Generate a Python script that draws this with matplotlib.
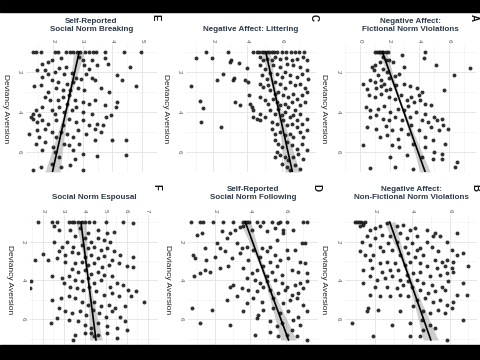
import numpy as np
import matplotlib.pyplot as plt
from matplotlib.patches import Rectangle

plt.rcParams['font.family'] = ['Liberation Sans', 'DejaVu Sans']

# ---- data (x = measure, y = Deviancy Aversion) ----
# E: Self-Reported Social Norm Breaking
e_pts = [(1.32,1),(1.44,1),(1.58,1),(2.07,1),(2.16,1),(2.42,1),(2.56,1),(2.66,1),(2.82,1),(2.92,1),
         (3.08,1),(3.21,1),(3.34,1),(3.43,1),(3.74,1),(4.39,1),(4.95,1),
         (1.84,1.5),(1.95,1.38),(1.63,1.58),(2.28,1.28),(2.89,1.25),(3.0,1.42),(3.32,1.38),(3.74,1.28),
         (3.84,1.62),(3.05,1.67),(3.21,1.83),(3.47,1.67),(4.58,1.75),(2.42,1.75),(2.21,1.8),(1.74,1.92),(1.47,1.92),
         (1.84,2.08),(2.05,2.0),(2.37,2.12),(2.63,2.05),(2.79,2.28),(2.95,2.33),(3.11,2.08),(3.32,2.28),(3.42,2.42),
         (2.68,2.5),(2.47,2.58),(2.16,2.5),(1.95,2.42),(1.63,2.25),(1.58,2.67),(1.37,2.72),(4.16,2.17),(4.32,2.38),
         (4.79,2.72),(3.89,3.0),(3.63,2.78),(2.84,2.78),(3.05,2.88),(2.58,2.92),(2.32,2.88),(2.11,2.78),(1.84,3.0),
         (1.74,3.25),(1.89,3.42),(2.16,3.42),(2.32,3.25),(2.53,3.17),(2.74,3.42),(3.0,3.5),(3.21,3.58),(3.42,3.42),
         (3.74,3.67),(4.11,3.75),(4.16,3.5),(2.79,3.75),(2.47,3.58),(2.21,3.75),(1.95,3.92),(1.63,3.75),(1.42,3.92),
         (1.32,4.08),(1.26,4.25),(1.53,4.17),(2.05,4.08),(2.37,4.0),(2.63,3.92),(3.0,4.0),(3.32,4.08),(3.79,4.25),(3.95,4.17),
         (1.32,4.33),(1.47,4.5),(1.63,4.42),(1.84,4.58),(2.11,4.42),(2.32,4.67),(2.53,4.33),(2.79,4.5),(3.0,4.42),
         (3.21,4.67),(3.47,4.58),(3.68,4.67),(1.47,4.92),(1.74,4.83),(1.95,5.0),(2.26,5.0),(2.47,5.08),(2.84,4.92),
         (3.11,5.08),(3.42,4.83),(3.63,5.0),(1.19,5.08),(1.53,5.25),(2.11,5.25),(2.68,5.25),(3.42,5.42),
         (1.42,5.58),(1.74,5.5),(2.0,5.75),(2.37,5.58),(2.53,5.67),(2.89,5.58),(4.0,5.42),(4.47,5.42),(1.63,5.92),
         (2.05,6.0),(2.68,5.92),(3.0,6.08),(2.21,6.25),(2.74,6.33),(3.47,6.22),(4.47,6.17),(1.58,6.75),(1.95,6.58),
         (1.32,6.92),(2.26,6.75),(3.0,6.92),(2.58,6.67)]
e_fit = (3.03, -0.15)   # intercept, slope of measure on deviancy aversion
e_ci = (0.05, 0.07)

# C: Negative Affect: Littering
c_pts = [(4.34,1),(4.54,1),(4.69,1),(4.83,1),(4.97,1),(5.12,1),(5.28,1),(5.43,1),(5.57,1),(5.71,1),(6.0,1),
         (6.25,1),(6.53,1),(6.78,1),(7.03,1),(7.33,1),(1.57,1),(2.88,1),
         (0.99,1.28),(1.9,1.28),(3.01,1.42),(3.52,1.55),(3.99,1.78),(2.98,1.5),(2.55,2.08),(2.23,2.38),(3.13,2.42),
         (3.21,2.28),(3.85,2.42),(4.05,2.5),(0.67,2.72),(1.22,3.45),(1.38,3.78),(1.26,4.5),(2.45,4.75),(3.27,3.5),
         (3.56,3.67),(4.11,3.17),(4.15,3.62),(4.24,3.75),(4.3,3.92),(4.54,4.33),(4.73,4.42),(4.34,4.25),
         (4.73,1.25),(4.93,1.42),(5.12,1.33),(5.41,1.42),(5.61,1.25),(5.9,1.33),(6.25,1.28),(6.59,1.38),(6.88,1.33),
         (7.27,1.25),(7.46,1.38),(4.73,1.67),(5.02,1.83),(5.51,1.67),(5.9,1.75),(6.29,1.62),(6.68,1.67),(7.07,1.75),
         (7.46,1.92),(4.83,2.17),(5.12,2.33),(5.32,2.05),(5.71,2.12),(6.0,2.25),(6.2,2.0),(6.49,2.17),(6.88,2.25),
         (7.17,2.08),(7.56,2.33),(4.73,2.58),(4.93,2.75),(5.22,2.67),(5.61,2.5),(5.9,2.58),(6.2,2.78),(6.49,2.5),
         (6.78,2.67),(7.07,2.58),(7.37,2.78),(5.32,2.92),(5.61,3.08),(5.8,3.0),(6.1,3.17),(6.39,3.25),(6.68,3.08),
         (6.88,3.33),(7.17,3.17),(7.46,3.0),(4.73,3.25),(5.02,3.42),(5.22,3.58),(5.51,3.33),(5.71,3.5),(5.9,3.67),
         (6.2,3.58),(6.39,3.75),(6.59,3.5),(6.78,3.92),(7.07,3.67),(7.37,3.5),(5.32,3.92),(5.61,4.08),(5.8,3.83),
         (6.0,4.17),(6.2,4.0),(6.49,4.25),(6.68,4.17),(6.88,4.42),(7.07,4.08),(7.46,4.33),(4.73,4.08),(5.02,4.25),
         (5.41,4.5),(5.71,4.58),(6.1,4.42),(6.29,4.67),(6.59,4.58),(6.88,4.75),(7.17,4.58),(7.46,4.92),(5.41,4.83),
         (5.61,5.08),(5.9,5.0),(6.2,5.17),(6.49,5.08),(6.68,5.25),(7.07,5.0),(7.27,5.25),(5.61,5.42),(5.8,5.58),
         (6.0,5.75),(6.29,5.5),(6.59,5.67),(6.88,5.83),(7.17,5.58),(7.46,5.92),(5.71,6.0),(5.9,6.17),(6.2,6.25),
         (6.39,6.42),(6.68,6.25),(6.98,6.08),(7.27,6.33),(5.61,6.25),(6.29,6.75),(6.49,6.92),(6.78,6.67),(7.07,6.83),(6.0,6.58)]
c_fit = (4.81, 0.26)
c_ci = (0.10, 0.11)

# A: Negative Affect: Fictional Norm Violations
a_pts = [(1.02,1),(1.16,1),(1.29,1),(1.39,1),(1.49,1),(1.59,1),(1.73,1),(1.9,1),(2.86,1.13),(4.39,1),
         (1.53,1.25),(1.73,1.38),(1.33,1.5),(1.02,1.67),(1.94,1.42),(2.24,1.5),(2.96,1.75),(4.29,1.28),(5.1,1.67),
         (7.41,1.78),(6.33,2.17),(5.65,2.88),(0.82,1.75),(0.92,1.92),(1.53,1.83),(1.84,2.0),(1.22,2.17),(0.71,2.38),
         (1.02,2.5),(1.43,2.42),(1.63,2.58),(1.94,2.28),(2.35,2.22),(2.65,2.12),(0.2,2.58),(0.51,2.83),(1.12,2.78),
         (1.43,2.72),(1.73,2.92),(2.04,2.83),(2.45,2.67),(2.96,2.58),(3.37,2.72),(3.88,2.78),(3.98,3.17),(4.18,3.0),
         (0.61,3.17),(1.02,3.25),(1.43,3.12),(1.94,3.25),(2.35,3.33),(2.76,3.17),(3.16,3.42),(3.47,3.25),(3.67,3.5),
         (4.08,3.42),(4.39,3.58),(4.8,3.67),(0.41,3.75),(0.71,3.92),(1.22,3.83),(1.63,3.72),(2.04,4.0),(2.55,3.83),
         (2.96,3.92),(3.27,3.72),(3.78,4.0),(4.39,4.08),(5.0,4.25),(0.71,4.25),(1.12,4.17),(1.53,4.33),(1.94,4.42),
         (2.35,4.25),(2.86,4.38),(3.37,4.25),(4.18,4.42),(4.59,4.5),(5.2,4.42),(5.51,4.33),(0.51,4.75),(1.12,4.83),
         (1.73,4.72),(2.14,4.92),(2.76,4.83),(3.47,4.67),(3.98,4.92),(4.8,4.75),(5.31,4.92),(5.61,4.67),(5.92,4.83),
         (1.33,5.25),(1.84,5.17),(2.55,5.33),(3.27,5.08),(4.39,5.25),(4.9,5.42),(5.71,5.58),(0.2,5.67),(2.14,5.67),
         (2.65,5.75),(3.57,5.58),(4.39,5.75),(5.0,6.0),(5.51,6.08),(2.04,6.25),(3.16,6.17),(4.18,6.25),(4.9,6.33),
         (5.51,6.33),(6.53,6.5),(0.67,6.78),(2.35,6.75),(3.57,6.83),(6.43,6.75)]
a_fit = (1.04, 0.48)
a_ci = (0.08, 0.10)

# F: Social Norm Espousal
f_pts = [(1.77,1),(2.46,1),(2.69,1),(3.23,1),(3.38,1),(3.51,1),(3.69,1),(3.85,1),(4.03,1),(4.23,1),(4.46,1),
         (5.0,1),(5.85,1),(6.31,1.06),
         (2.54,1.23),(2.77,1.4),(3.31,1.4),(3.77,1.32),(4.15,1.57),(4.62,1.4),(5.08,1.57),(5.38,1.49),(3.54,1.74),
         (4.0,1.83),(4.31,2.0),(4.62,1.83),(4.92,1.91),(5.23,2.0),(3.15,2.0),(2.92,2.26),(2.54,2.0),(3.46,2.26),
         (3.85,2.17),(4.15,2.34),(4.46,2.26),(4.77,2.43),(5.08,2.34),(5.38,2.51),(2.77,2.51),(3.08,2.68),(3.38,2.56),
         (3.69,2.6),(4.0,2.77),(4.31,2.68),(4.62,2.85),(4.92,2.74),(5.31,2.94),(5.69,2.68),(6.31,2.77),(2.0,2.63),
         (1.62,2.94),(2.23,2.94),(2.69,2.85),(3.08,3.03),(3.54,3.11),(3.85,3.03),(4.15,3.2),(4.46,3.11),(4.85,3.32),
         (5.15,3.2),(5.62,3.11),(6.0,3.28),(6.31,3.32),(3.38,3.42),(3.69,3.54),(4.0,3.45),(4.31,3.66),(4.62,3.54),
         (4.92,3.71),(5.31,3.79),(2.46,3.79),(2.92,3.88),(3.23,3.79),(3.54,3.97),(3.85,4.05),(4.15,3.88),(4.46,4.14),
         (4.77,3.97),(5.23,4.31),(5.54,4.14),(5.85,4.22),(6.08,4.48),(6.46,4.56),(1.46,4.05),(1.38,4.39),(3.0,4.14),
         (3.31,4.31),(3.62,4.39),(3.92,4.48),(4.23,4.31),(4.54,4.56),(4.92,4.74),(5.31,4.65),(5.62,4.82),(6.23,4.82),
         (6.85,5.08),(2.46,4.99),(2.85,4.91),(3.23,4.82),(3.54,4.91),(3.85,5.08),(4.15,5.25),(4.46,5.08),(4.77,5.33),
         (5.15,5.25),(5.46,5.42),(5.92,5.33),(2.77,5.42),(3.08,5.59),(3.38,5.68),(3.77,5.59),(4.08,5.76),(4.38,5.5),
         (4.69,5.68),(5.0,5.85),(5.31,5.59),(5.69,5.85),(5.92,6.1),(2.38,6.19),(2.69,5.93),(3.23,6.02),(3.69,6.1),
         (4.0,6.27),(4.31,6.44),(4.62,6.19),(5.08,6.36),(5.54,6.44),(6.0,6.53),(3.54,6.79),(4.0,6.7),(4.46,6.87),
         (4.62,6.79),(5.08,6.7),(5.54,6.96),(3.46,7.04),(4.31,6.7)]
f_fit = (3.70, 0.119)
f_ci = (0.06, 0.09)

# D: Self-Reported Social Norm Following
d_pts = [(0.62,1),(1.15,1),(1.34,1),(1.91,1),(2.47,1),(3.0,1),(3.57,1),(3.7,1),(3.83,1),(3.94,1),(4.36,1),
         (4.74,1),(5.21,1),(5.68,1),(6.06,1),(7.0,1),(7.19,1),
         (0.96,1.66),(1.25,1.57),(2.38,1.44),(2.85,1.54),(3.13,1.4),(3.42,1.26),(3.6,1.23),(4.08,1.4),(4.55,1.23),
         (4.92,1.44),(5.4,1.32),(5.58,1.06),(5.83,1.4),(5.83,1.57),(6.43,1.4),(6.91,2.09),(7.09,2.09),(6.53,2.43),
         (6.06,2.43),(5.49,1.91),(5.11,2.26),(4.64,2.34),(4.17,2.43),(3.79,2.26),(3.51,2.34),(3.23,2.09),(2.66,1.83),
         (2.09,2.09),(1.43,2.34),(0.77,2.68),(0.87,2.85),(1.49,2.94),(2.0,2.77),(2.28,2.34),(2.57,2.51),(2.94,2.85),
         (3.42,2.6),(3.89,2.94),(4.55,2.77),(4.92,2.51),(5.11,3.03),(5.4,2.68),(5.68,2.94),(6.15,2.85),(6.81,3.03),
         (7.09,3.11),(1.72,3.54),(1.15,3.62),(1.43,3.45),(0.81,3.79),(2.28,3.37),(2.75,3.28),(3.6,3.37),(4.08,3.62),
         (4.36,3.45),(4.74,3.25),(4.92,3.79),(5.21,3.54),(5.49,3.28),(5.77,3.71),(6.34,3.45),(6.72,3.54),(7.19,3.62),
         (3.79,3.88),(4.26,3.97),(4.55,4.14),(4.92,4.05),(5.4,3.97),(5.77,4.14),(6.06,4.31),(6.53,4.22),(6.81,4.14),
         (7.19,4.05),(2.85,4.31),(3.04,4.22),(3.51,4.39),(3.89,4.48),(4.36,4.56),(4.74,4.31),(5.11,4.48),(5.58,4.65),
         (5.96,4.48),(6.34,4.74),(6.72,4.65),(7.0,4.39),(2.66,4.99),(3.23,4.82),(3.79,5.16),(4.17,4.91),(4.64,5.08),
         (5.3,4.91),(5.87,5.16),(6.25,4.99),(6.62,4.91),(7.0,5.25),(0.68,5.42),(1.81,5.5),(3.6,5.59),(4.45,5.76),
         (4.74,5.5),(5.3,5.42),(5.68,5.68),(6.15,5.59),(6.72,5.85),(7.19,5.59),(1.15,6.19),(2.85,6.27),(4.36,5.93),
         (5.11,6.1),(5.49,6.36),(5.77,6.19),(6.43,6.02),(6.81,6.27),(4.26,6.79),(5.11,6.62),(5.58,6.87),(6.06,6.79),
         (6.34,6.53),(6.62,6.87),(7.19,7.04)]
d_fit = (3.31, 0.404)
d_ci = (0.10, 0.12)

# B: Negative Affect: Non-Fictional Norm Violations
b_pts = [(0.93,1),(1.05,1),(1.16,1),(1.27,1),(1.38,1.05),(1.46,1),(1.2,1.2),(1.38,1.15),
         (1.73,1.4),(2.0,1.32),(2.27,1.23),(2.63,1.06),(3.16,1.23),(3.52,1.15),(3.88,1.4),(4.14,1.32),(4.77,1.4),
         (5.21,1.57),(5.48,1.74),(5.13,1.74),(6.38,1.57),(1.55,1.74),(2.0,1.83),(2.36,1.66),(2.8,1.74),(3.34,1.57),
         (3.7,1.83),(4.23,1.74),(4.77,2.0),(5.84,2.0),(1.29,2.0),(1.73,2.17),(2.27,2.26),(2.71,2.09),(3.16,2.0),
         (3.61,2.26),(3.96,2.09),(4.23,2.43),(4.41,2.34),(5.04,2.26),(5.39,2.51),(6.11,2.43),(6.38,2.68),(6.73,2.6),
         (1.2,2.51),(1.46,2.68),(1.91,2.68),(2.45,2.51),(2.89,2.43),(3.34,2.68),(3.79,2.6),(4.14,2.77),(4.59,2.68),
         (5.21,2.94),(5.57,3.03),(5.84,2.94),(6.2,3.03),(1.73,2.94),(2.27,3.11),(2.63,3.03),(3.07,3.11),(3.61,3.2),
         (3.88,3.03),(4.41,3.11),(4.77,3.28),(5.3,3.37),(5.75,3.28),(6.11,3.37),(7.0,3.28),(1.38,3.45),(1.82,3.37),
         (2.36,3.54),(2.8,3.45),(3.25,3.45),(3.7,3.71),(4.05,3.62),(4.41,3.54),(4.95,3.79),(5.48,3.71),(5.84,3.62),
         (6.2,3.54),(1.73,3.79),(2.09,3.97),(2.54,3.88),(2.89,3.79),(3.34,3.97),(3.79,4.05),(4.23,3.97),(4.59,4.14),
         (5.04,4.22),(5.57,4.31),(5.93,4.05),(6.73,4.14),(1.38,4.14),(2.0,4.31),(2.63,4.31),(3.16,4.39),(3.52,4.22),
         (3.96,4.31),(4.41,4.48),(4.86,4.65),(5.21,4.56),(5.75,4.48),(6.38,4.74),(6.91,4.74),(1.73,4.74),(2.27,4.82),
         (2.8,4.82),(3.34,4.74),(3.79,4.82),(4.23,4.99),(4.68,4.91),(5.13,5.08),(5.48,4.99),(5.84,5.25),(6.2,5.08),
         (1.64,5.42),(1.55,5.59),(2.18,5.5),(3.34,5.59),(4.05,5.33),(4.59,5.59),(4.95,5.68),(5.39,5.5),(5.75,5.68),
         (6.11,5.42),(6.73,6.02),(0.75,6.19),(2.89,6.27),(3.88,6.19),(4.5,6.02),(4.95,6.27),(5.21,6.44),(1.91,6.84),
         (3.88,6.87),(4.59,6.53),(5.84,7.04),(4.41,6.87)]
b_fit = (2.42, 0.364)
b_ci = (0.10, 0.11)

letters = ['E', 'C', 'A', 'F', 'D', 'B']
titles = ['Self-Reported\nSocial Norm Breaking', 'Negative Affect: Littering',
          'Negative Affect:\nFictional Norm Violations', 'Social Norm Espousal',
          'Self-Reported\nSocial Norm Following', 'Negative Affect:\nNon-Fictional Norm Violations']
all_pts = [e_pts, c_pts, a_pts, f_pts, d_pts, b_pts]
all_fit = [e_fit, c_fit, a_fit, f_fit, d_fit, b_fit]
all_ci = [e_ci, c_ci, a_ci, f_ci, d_ci, b_ci]
x_ticks = [[2, 3, 4, 5], [2, 4, 6], [0, 2, 4, 6], [2, 3, 4, 5, 6, 7], [2, 4, 6], [2, 4, 6]]
y_ticks = [2, 4, 6]

# layout in pixels of a 480x360 canvas: (left, top, right, bottom)
boxes = [(26, 45, 157, 172), (186, 45, 316, 172), (345, 45, 476, 172),
         (30, 215, 158, 360), (188, 215, 318, 360), (345, 215, 477, 360)]
xlims = [(1.09, 5.19), (0.40, 8.01), (-0.2, 7.82), (1.39, 7.29), (0.47, 7.83), (0.39, 7.46)]
ylims = [(7.0, 0.65)] * 3 + [(8.08, 0.64)] * 3
line_end = [7.0, 7.0, 7.0, 7.05, 7.05, 7.05]

W, H = 480, 360
fig = plt.figure(figsize=(4.8, 3.6), dpi=100)

for i in range(6):
    l, t, r, b = boxes[i]
    ax = fig.add_axes([l / W, 1 - b / H, (r - l) / W, (b - t) / H])
    pts = np.array(all_pts[i])
    xs, ys = pts[:, 0], pts[:, 1]

    a0, a1 = all_fit[i]
    mid, k = all_ci[i]
    yy = np.linspace(1, line_end[i], 60)
    xx = a0 + a1 * yy
    half = np.sqrt(mid ** 2 + (k * (yy - ys.mean())) ** 2)
    ax.fill_betweenx(yy, xx - half, xx + half, color='#a0a0a0', alpha=0.5, lw=0, zorder=2)
    ax.scatter(xs, ys, s=8, color='#1a1a1a', lw=0, alpha=0.9, zorder=3)
    ax.plot(xx, yy, color='black', lw=1.2, zorder=4)

    ax.set_xlim(*xlims[i])
    ax.set_ylim(*ylims[i])
    xt = x_ticks[i]
    step = xt[1] - xt[0]
    ax.set_xticks(xt)
    ax.set_xticks(np.arange(xt[0] - step / 2, xt[-1] + step, step), minor=True)
    ax.set_yticks(y_ticks)
    ax.set_yticks([1, 3, 5, 7], minor=True)
    ax.xaxis.tick_top()
    ax.tick_params(which='both', length=0)
    ax.tick_params(axis='x', labelsize=4.5, labelcolor='#555555', pad=2, labelrotation=270)
    ax.tick_params(axis='y', labelsize=4.5, labelcolor='#555555', pad=3, labelrotation=270)
    ax.grid(which='major', color='#e3e3e3', lw=0.6)
    ax.grid(which='minor', color='#f0f0f0', lw=0.4)
    ax.set_axisbelow(True)
    for s in ax.spines.values():
        s.set_visible(False)

    cx = (l + r) / 2
    ty = 33 if i < 3 else 201
    fig.text(cx / W, 1 - ty / H, titles[i], ha='center', va='bottom', fontsize=5.8,
             fontweight='bold', color='#2c3a48', linespacing=1.15)
    fig.text((l - 21) / W, 1 - ((t + min(b, 345)) / 2) / H, 'Deviancy Aversion', rotation=270,
             ha='center', va='center', fontsize=6, color='#222222')
    fig.text((r - 2) / W, 1 - (t - 28) / H, letters[i], rotation=270, ha='center', va='center',
             fontsize=7, fontweight='bold', color='#111111')

# black letterbox bars
fig.add_artist(Rectangle((0, 1 - 12 / H), 1, 12 / H, transform=fig.transFigure,
                         color='black', zorder=20))
fig.add_artist(Rectangle((0, 0), 1, 15 / H, transform=fig.transFigure,
                         color='black', zorder=20))

fig.savefig('out.png', dpi=100, facecolor='white')
